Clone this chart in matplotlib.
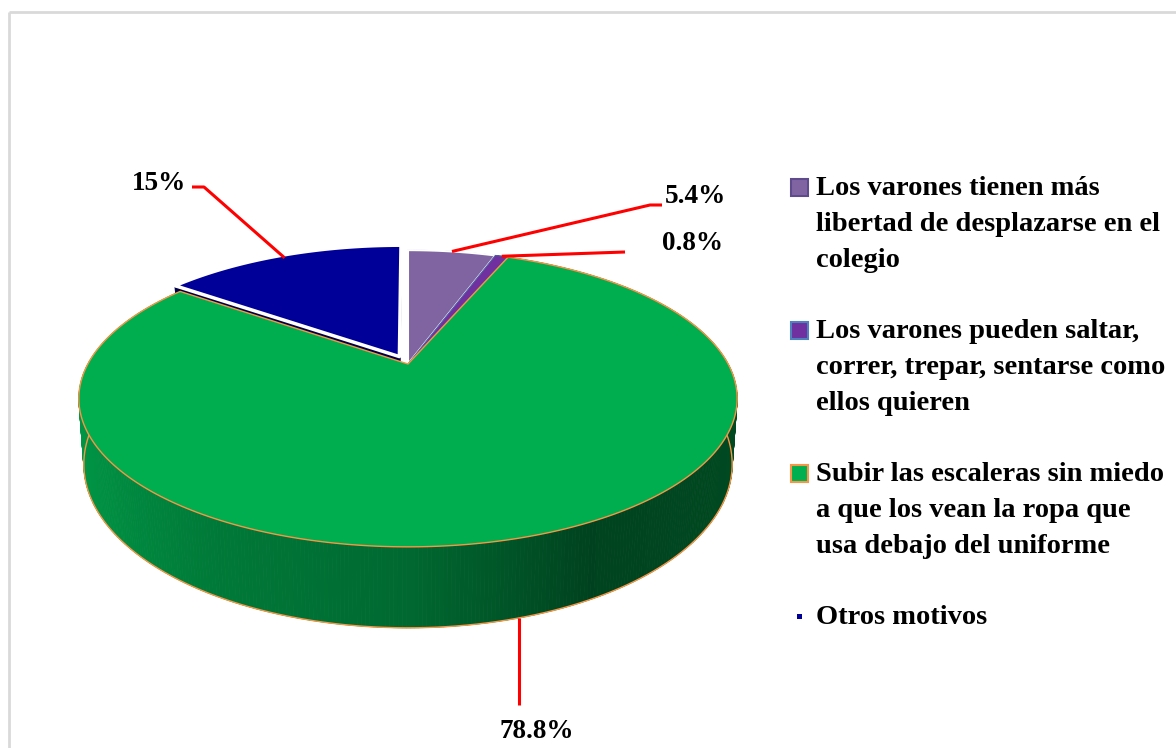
import numpy as np
import matplotlib.pyplot as plt
from matplotlib.patches import Polygon, Rectangle

# data
legend_labels = [
    "Los varones tienen más\nlibertad de desplazarse en el\ncolegio",
    "Los varones pueden saltar,\ncorrer, trepar, sentarse como\nellos quieren",
    "Subir las escaleras sin miedo\na que los vean la ropa que\nusa debajo del uniforme",
    "Otros motivos",
]
values = [5.4, 0.8, 78.8, 15]

top_colors = ['#8064A2', '#7030A0', '#00AD4F', '#000099']
edge_colors = ['white', '#4F5FA0', '#F79646', 'white']
edge_widths = [1.5, 0.8, 1.0, 2.5]
legend_faces = ['#8064A2', '#7030A0', '#00B050', '#000099']
legend_edges = ['#5F4B8B', '#4F81BD', '#F79646', '#000099']
explode = [0, 0, 0, 0.06]

# 3d pie projection (pixel space)
cx, cy = 408, 364
f, D, thick = 1238, 3.867, 0.216
el = np.radians(26)
ce, se = np.cos(el), np.sin(el)


def proj(X, Y, Z):
    # perspective on the pie plane, the height pushes points down (slightly inward)
    X, Y, Z = np.broadcast_arrays(np.asarray(X, float), np.asarray(Y, float), np.asarray(Z, float))
    w = D + Y * ce
    return cx + f * X * (1 + 0.07 * Z) / w, cy - f * (Y * se + Z * ce) / w


def depth(X, Y, Z):
    return D + np.mean(Y) * ce - np.mean(Z) * se


def shade(color, k):
    r, g, b = plt.matplotlib.colors.to_rgb(color)
    return (r * k, g * k, b * k)


# side gradient of the green wall (by X position)
grad_x = [-1.0, -0.5, 0.0, 0.45, 1.0]
grad_r = [0.00, 0.00, 0.00, 0.00, 0.00]
grad_g = [0.60, 0.48, 0.41, 0.26, 0.29]
grad_b = [0.28, 0.22, 0.19, 0.12, 0.13]

fig = plt.figure(figsize=(11.76, 7.48), dpi=100)
ax = fig.add_axes([0, 0, 1, 1])
ax.set_xlim(0, 1176)
ax.set_ylim(748, 0)
ax.axis('off')

# frame
ax.plot([9, 9], [748, 12], color='#D9D9D9', lw=2, solid_capstyle='butt')
ax.plot([9, 1176], [12, 12], color='#D9D9D9', lw=2, solid_capstyle='butt')

fracs = np.array(values) / np.sum(values)
starts = np.concatenate([[0], np.cumsum(fracs)[:-1]]) * 2 * np.pi
ends = np.cumsum(fracs) * 2 * np.pi
cam = np.array([0, -D * ce, D * se])

sides = []   # (depth, xs, ys, color)
tops = []
for i in range(len(values)):
    t0, t1 = starts[i], ends[i]
    mid = (t0 + t1) / 2
    ox, oy = explode[i] * np.sin(mid), explode[i] * np.cos(mid)
    t = np.linspace(t0, t1, max(int((t1 - t0) / 0.01), 3))
    X = ox + np.sin(t)
    Y = oy + np.cos(t)
    # outer wall (back parts end up hidden by the tops)
    for k in range(len(t) - 1):
        qx = [X[k], X[k + 1], X[k + 1], X[k]]
        qy = [Y[k], Y[k + 1], Y[k + 1], Y[k]]
        qz = [0, 0, -thick, -thick]
        xm = np.sin((t[k] + t[k + 1]) / 2)
        if i == 2:
            col = (np.interp(xm, grad_x, grad_r), np.interp(xm, grad_x, grad_g),
                   np.interp(xm, grad_x, grad_b))
        else:
            col = shade(top_colors[i], 0.6)
        sx, sy = proj(qx, qy, qz)
        sides.append((depth(qx, qy, qz), sx, sy, col, col, 0.6))
    # radial faces
    for ang, sgn in [(t0, -1), (t1, 1)]:
        n = np.array([sgn * np.cos(ang), -sgn * np.sin(ang), 0])
        p = np.array([ox, oy, 0])
        if np.dot(n, cam - p) > 0:
            qx = [ox, ox + np.sin(ang), ox + np.sin(ang), ox]
            qy = [oy, oy + np.cos(ang), oy + np.cos(ang), oy]
            qz = [0, 0, -thick, -thick]
            sx, sy = proj(qx, qy, qz)
            col = shade(top_colors[i], 0.45)
            sides.append((depth(qx, qy, qz), sx, sy, col, col, 0.5))
    sx, sy = proj(np.concatenate([[ox], X]), np.concatenate([[oy], Y]), 0)
    tops.append((sx, sy, i))

sides.sort(key=lambda s: -s[0])
for d, sx, sy, col, ec, lw in sides:
    ax.add_patch(Polygon(np.column_stack([sx, sy]), closed=True, facecolor=col,
                         edgecolor=ec, lw=lw, zorder=2))

# thin orange outline on the green wall
t = np.linspace(np.pi / 2 - 0.3, 3 * np.pi / 2 + 0.3, 300)
bx, by = proj(np.sin(t), np.cos(t), -thick)
ax.plot(bx, by, color='#F79646', lw=1, zorder=3)

for sx, sy, i in tops:
    ax.add_patch(Polygon(np.column_stack([sx, sy]), closed=True, facecolor=top_colors[i],
                         edgecolor=edge_colors[i], lw=edge_widths[i], zorder=4,
                         joinstyle='round'))

# data labels with leader lines (None = same x as the anchor)
font = dict(family='Liberation Serif', weight='bold', color='black')
label_pos = [(665, 196, 'left'), (662, 243, 'left'), (537, 732, 'center'), (186, 183, 'right')]
elbows = [[(650, 205), (662, 205)], [(625, 252)], [(None, 705)], [(204, 187), (192, 187)]]
anchor_z = [0, 0, -thick, 0]
for i, v in enumerate(values):
    mid = (starts[i] + ends[i]) / 2
    r = 1.0 if i != 3 else 0.97
    ax_, ay_ = proj(explode[i] * np.sin(mid) + r * np.sin(mid),
                    explode[i] * np.cos(mid) + r * np.cos(mid), anchor_z[i])
    ax_, ay_ = float(ax_), float(ay_)
    px = [ax_] + [ax_ if p[0] is None else p[0] for p in elbows[i]]
    py = [ay_] + [p[1] for p in elbows[i]]
    ax.plot(px, py, color='#FF0000', lw=2.2, zorder=5, solid_capstyle='butt')
    lx, ly, ha = label_pos[i]
    ax.text(lx, ly, f"{v:g}%", ha=ha, va='center', zorder=6, fontsize=19.5, **font)

# legend
for i, lab in enumerate(legend_labels):
    base = 195 + 143 * i
    if i < 3:
        ax.add_patch(Rectangle((790.5, base - 16.5), 17, 17, facecolor=legend_faces[i],
                               edgecolor=legend_edges[i], lw=1.5, zorder=5))
    else:
        ax.add_patch(Rectangle((797, base - 10), 5, 5, facecolor=legend_faces[i],
                               edgecolor='none', zorder=5))
    for j, line in enumerate(lab.split('\n')):
        ax.text(816, base + 36 * j, line, ha='left', va='baseline', fontsize=20.5, **font)

fig.savefig('out.png', dpi=100)
